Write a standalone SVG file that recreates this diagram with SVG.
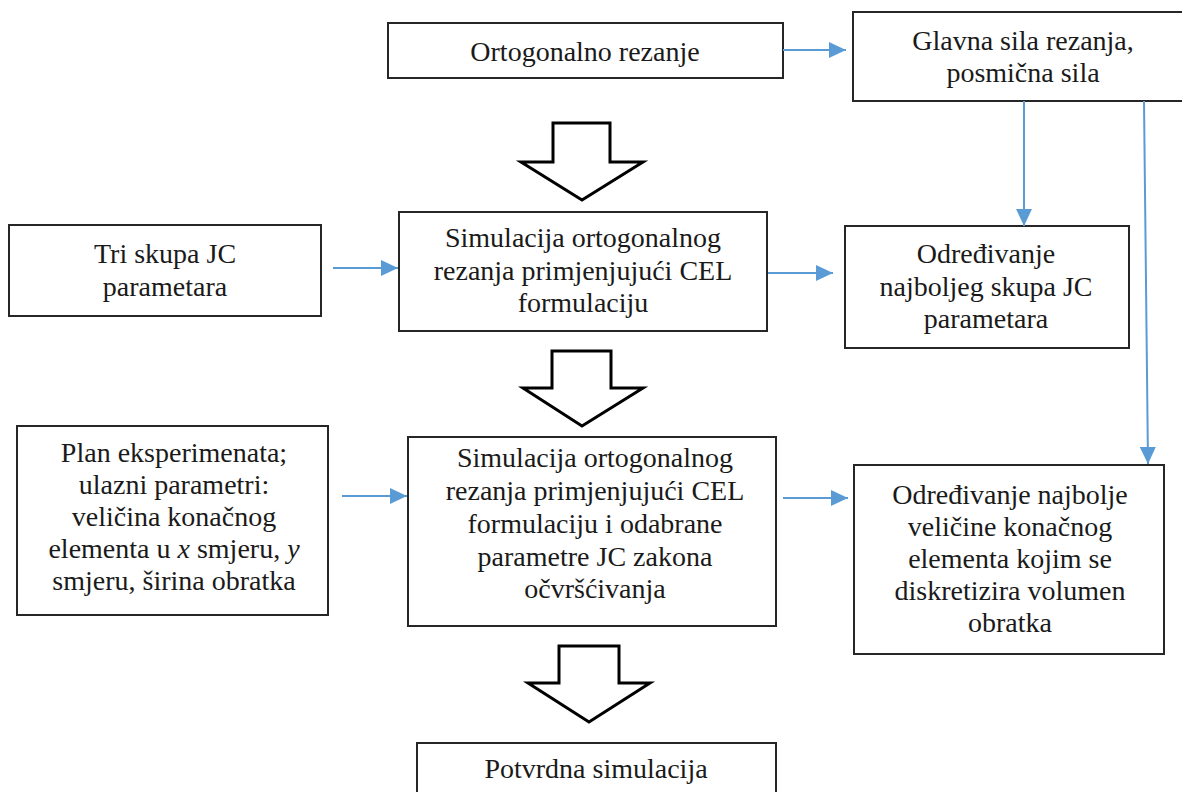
<svg xmlns="http://www.w3.org/2000/svg" width="1182" height="792" viewBox="0 0 1182 792">
<defs>
<style>
.box{fill:#fff;stroke:#262626;stroke-width:2}
.big{fill:#fff;stroke:#000;stroke-width:3;stroke-linejoin:miter}
text{font-family:'Liberation Serif','Times New Roman',Tinos,'DejaVu Serif',serif;font-size:28px;fill:#1a1a1a;text-anchor:middle}
.c{stroke:#5B9BD5;stroke-width:2;fill:none}
</style>
<marker id="ah" markerUnits="userSpaceOnUse" markerWidth="18" markerHeight="16" viewBox="0 0 18 16" refX="17" refY="8" orient="auto">
<path d="M0,0 L17,8 L0,16 Z" fill="#5B9BD5"/>
</marker>
</defs>
<rect width="1182" height="792" fill="#fff"/>
<g id="n-ortogonalno">
<rect class="box" x="388" y="23" width="395" height="55"/>
<text font-family="Liberation Serif" x="585" y="61">Ortogonalno rezanje</text>
</g>
<g id="n-glavna">
<rect class="box" x="853" y="12" width="340" height="89"/>
<text x="1023" y="50">Glavna sila rezanja,</text>
<text x="1023" y="82">posmična sila</text>
</g>
<g id="n-tri">
<rect class="box" x="9" y="225" width="312" height="91"/>
<text x="165" y="263">Tri skupa JC</text>
<text x="165" y="296">parametara</text>
</g>
<g id="n-sim1">
<rect class="box" x="399" y="212" width="368" height="119"/>
<text x="583" y="247">Simulacija ortogonalnog</text>
<text x="583" y="280">rezanja primjenjujući CEL</text>
<text x="583" y="312">formulaciju</text>
</g>
<g id="n-odredjivanje1">
<rect class="box" x="845" y="226" width="284" height="122"/>
<text x="986" y="263">Određivanje</text>
<text x="986" y="296">najboljeg skupa JC</text>
<text x="986" y="328">parametara</text>
</g>
<g id="n-plan">
<rect class="box" x="17" y="426" width="311" height="189"/>
<text x="174" y="462">Plan eksperimenata;</text>
<text x="174" y="494">ulazni parametri:</text>
<text x="174" y="526">veličina konačnog</text>
<text x="174" y="558">elementa u <tspan font-style="italic">x</tspan> smjeru, <tspan font-style="italic">y</tspan></text>
<text x="174" y="590">smjeru, širina obratka</text>
</g>
<g id="n-sim2">
<rect class="box" x="408" y="437" width="368" height="189"/>
<text x="595" y="467">Simulacija ortogonalnog</text>
<text x="595" y="500">rezanja primjenjujući CEL</text>
<text x="595" y="533">formulaciju i odabrane</text>
<text x="595" y="566">parametre JC zakona</text>
<text x="595" y="598">očvršćivanja</text>
</g>
<g id="n-odredjivanje2">
<rect class="box" x="854" y="465" width="310" height="189"/>
<text x="1010" y="504">Određivanje najbolje</text>
<text x="1010" y="536">veličine konačnog</text>
<text x="1010" y="568">elementa kojim se</text>
<text x="1010" y="600">diskretizira volumen</text>
<text x="1010" y="632">obratka</text>
</g>
<g id="n-potvrdna">
<rect class="box" x="417" y="743" width="359" height="60"/>
<text x="596" y="778">Potvrdna simulacija</text>
</g>
<g id="flow-arrows">
<polygon class="big" points="553,123 610,123 610,162 643,162 582,200 521,162 553,162"/>
<polygon class="big" points="552,351 611,351 611,388 643,388 582,426 523,388 552,388"/>
<polygon class="big" points="559,646 619,646 619,683 650,683 589,722 528,683 559,683"/>
</g>
<g id="connectors">
<line class="c" x1="783" y1="50" x2="846" y2="50" marker-end="url(#ah)"/>
<line class="c" x1="333" y1="268" x2="398" y2="268" marker-end="url(#ah)"/>
<line class="c" x1="768" y1="273" x2="833" y2="273" marker-end="url(#ah)"/>
<line class="c" x1="342" y1="496" x2="407" y2="496" marker-end="url(#ah)"/>
<line class="c" x1="783" y1="498" x2="848" y2="498" marker-end="url(#ah)"/>
<line class="c" x1="1024" y1="101" x2="1024" y2="226" marker-end="url(#ah)"/>
<line class="c" x1="1144" y1="101" x2="1148" y2="464" marker-end="url(#ah)"/>
</g>
</svg>
